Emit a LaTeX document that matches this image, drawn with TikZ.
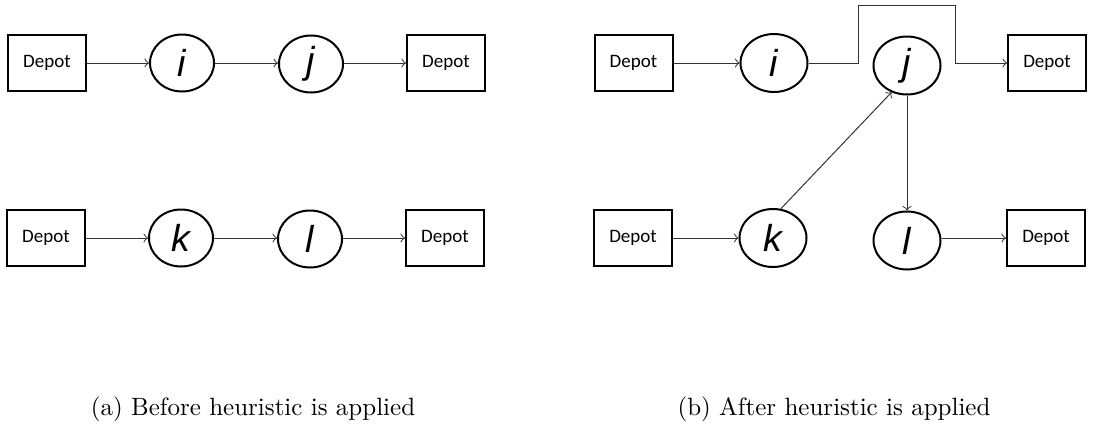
\documentclass[tikz,border=0pt]{standalone}
\usepackage{fontspec}
\usetikzlibrary{shapes.geometric}
\newfontfamily\depotfont{Carlito}
\newfontfamily\varfont{Liberation Sans}
\tikzset{
  depot/.style={draw,line width=0.8pt,minimum width=31.2pt,minimum height=22.4pt,
    inner sep=0pt,font=\depotfont\fontsize{7.6}{9}\selectfont},
  cliente/.style={draw,ellipse,line width=0.8pt,minimum width=25.6pt,minimum height=22.8pt,
    inner sep=0pt,font=\varfont\itshape\fontsize{15}{18}\selectfont},
  ruta/.style={->,line width=0.4pt,black!80}
}
\begin{document}
\begin{tikzpicture}[x=0.4pt,y=-0.4pt]
    \clip (0,0) rectangle (1101,427);

    % (a) rutas originales

    \node[depot] (d1) at (47,63) {Depot};
    \node[cliente] (i) at (182,63) {i};
    \node[cliente] (j) at (311,64) {j};
    \node[depot] (d2) at (446,63) {Depot};
    \draw[ruta] (d1) -- (i);
    \draw[ruta] (i) -- (i -| j.west);
    \draw[ruta] (i -| j.east) -- (i -| d2.west);

    \node[depot] (d3) at (46,238) {Depot};
    \node[cliente] (k) at (181,238) {k};
    \node[cliente] (l) at (310,239) {l};
    \node[depot] (d4) at (445,238) {Depot};
    \draw[ruta] (d3) -- (k);
    \draw[ruta] (k) -- (k -| l.west);
    \draw[ruta] (k -| l.east) -- (k -| d4.west);

    \node[anchor=base] at (253,415) {(a) Before heuristic is applied};

    % (b) rutas tras la heuristica

    \node[depot] (d5) at (633.5,63) {Depot};
    \node[cliente,minimum width=26.8pt,minimum height=23.2pt] (i2) at (774,63) {i};
    \node[cliente,minimum width=26.8pt,minimum height=23.2pt] (j2) at (907,65.5) {j};
    \node[depot] (d6) at (1047,63) {Depot};
    \coordinate (arriba1) at (858,5);
    \coordinate (arriba2) at (955,5);
    \draw[ruta] (d5) -- (i2);
    \draw[ruta] (i2.east) -- (i2.east -| arriba1) -- (arriba1) -- (arriba2) |- (d6.west);

    \node[depot] (d7) at (633,238) {Depot};
    \node[cliente,minimum width=26.8pt,minimum height=23.2pt] (k2) at (773,238) {k};
    \node[cliente,minimum width=26.8pt,minimum height=23.2pt] (l2) at (907,240.5) {l};
    \node[depot] (d8) at (1046,238) {Depot};
    \draw[ruta] (d7) -- (k2);
    \draw[ruta] (l2.east |- d8) -- (d8.west);
    \draw[ruta] (k2.75) -- (j2.240);
    \draw[ruta] (j2) -- (l2);

    \node[anchor=base] at (834,415) {(b) After heuristic is applied};
  \end{tikzpicture}
\end{document}
